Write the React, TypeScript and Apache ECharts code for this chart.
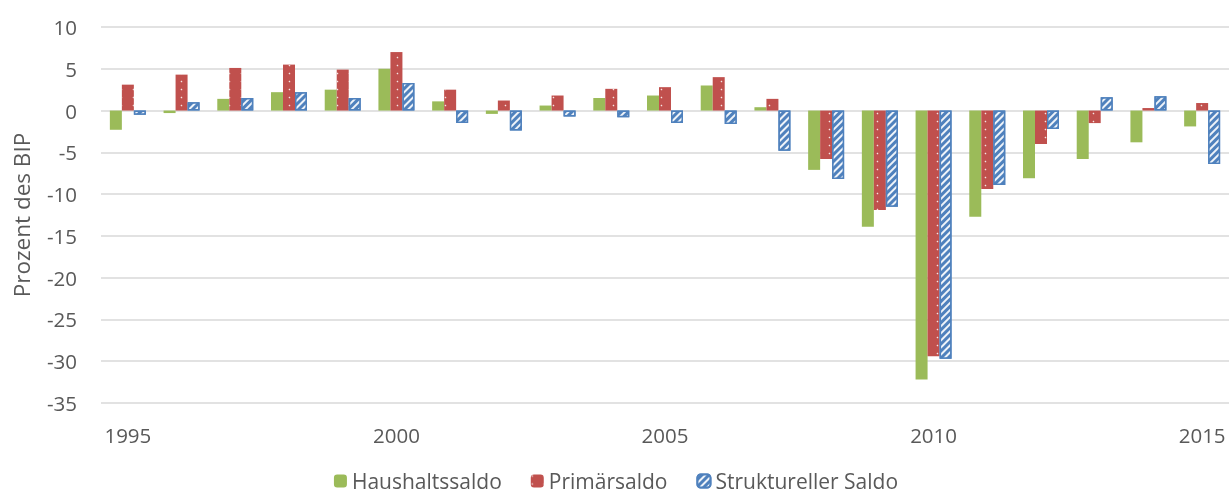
import React, { useEffect, useRef } from "react";
import * as echarts from "echarts";

const years = ["1995","1996","1997","1998","1999","2000","2001","2002","2003","2004","2005","2006","2007","2008","2009","2010","2011","2012","2013","2014","2015"];
const haushaltssaldo = [-2.3, -0.3, 1.4, 2.2, 2.5, 5.0, 1.1, -0.4, 0.6, 1.5, 1.8, 3.0, 0.4, -7.1, -13.9, -32.2, -12.7, -8.1, -5.8, -3.8, -1.9];
const primaersaldo = [3.1, 4.3, 5.1, 5.5, 4.9, 7.0, 2.5, 1.2, 1.8, 2.6, 2.8, 4.0, 1.4, -5.8, -11.9, -29.4, -9.4, -4.0, -1.5, 0.3, 0.9];
const strukturellerSaldo = [-0.5, 1.0, 1.5, 2.2, 1.5, 3.3, -1.5, -2.4, -0.7, -0.8, -1.5, -1.6, -4.8, -8.2, -11.5, -29.7, -8.9, -2.2, 1.6, 1.7, -6.4];

const FONT = "'Open Sans', 'Noto Sans', sans-serif";
const TEXT = "#595959";

export default function App() {
  const ref = useRef<HTMLDivElement>(null);
  useEffect(() => {
    if (!ref.current) return;
    const chart = echarts.init(ref.current, null, { renderer: "svg" });
    chart.setOption({
      animation: false,
      textStyle: { fontFamily: FONT },
      grid: { left: 101, right: 3, top: 27, bottom: 95, containLabel: false },
      legend: {
        top: 468,
        left: "center",
        padding: [0, 5, 0, 5],
        itemWidth: 13,
        itemHeight: 13,
        itemGap: 29,
        textStyle: { fontSize: 21, color: TEXT, fontFamily: FONT, lineHeight: 26 },
        data: ["Haushaltssaldo", "Primärsaldo", "Struktureller Saldo"],
      },
      xAxis: {
        type: "category",
        data: years,
        axisLine: { show: false },
        axisTick: { show: false },
        axisLabel: { interval: 4, color: TEXT, fontSize: 20.5, margin: 21, fontFamily: FONT },
        splitLine: { show: false },
      },
      yAxis: {
        type: "value",
        min: -35,
        max: 10,
        interval: 5,
        name: "Prozent des BIP",
        nameLocation: "middle",
        nameGap: 68,
        nameTextStyle: { fontSize: 22.5, color: TEXT, fontFamily: FONT },
        axisLine: { show: false },
        axisTick: { show: false },
        axisLabel: { color: TEXT, fontSize: 20.5, margin: 24, fontFamily: FONT },
        splitLine: { lineStyle: { color: "#d9d9d9", width: 1.5 } },
      },
      series: [
        {
          name: "Haushaltssaldo",
          type: "bar",
          data: haushaltssaldo,
          barWidth: 12,
          barGap: "0%",
          itemStyle: { color: "#9BBB59" },
        },
        {
          name: "Primärsaldo",
          type: "bar",
          data: primaersaldo,
          barWidth: 12,
          barGap: "0%",
          itemStyle: {
            color: "#C0504D",
            decal: {
              symbol: "circle",
              symbolSize: 0.5,
              color: "rgba(255,255,255,0.85)",
              dashArrayX: [3, 9],
              dashArrayY: [3, 5],
            },
          },
        },
        {
          name: "Struktureller Saldo",
          type: "bar",
          data: strukturellerSaldo,
          barWidth: 12,
          barGap: "0%",
          itemStyle: {
            color: "#4F81BD",
            borderColor: "#4F81BD",
            borderWidth: 1.5,
            decal: {
              symbol: "rect",
              symbolSize: 1,
              color: "rgba(255,255,255,0.9)",
              rotation: -Math.PI / 4,
              dashArrayX: [1, 0],
              dashArrayY: [2, 3],
            },
          },
        },
      ],
    });
    return () => chart.dispose();
  }, []);
  return <div ref={ref} style={{ position: "fixed", left: 0, top: 0, width: 1232, height: 498 }} />;
}
